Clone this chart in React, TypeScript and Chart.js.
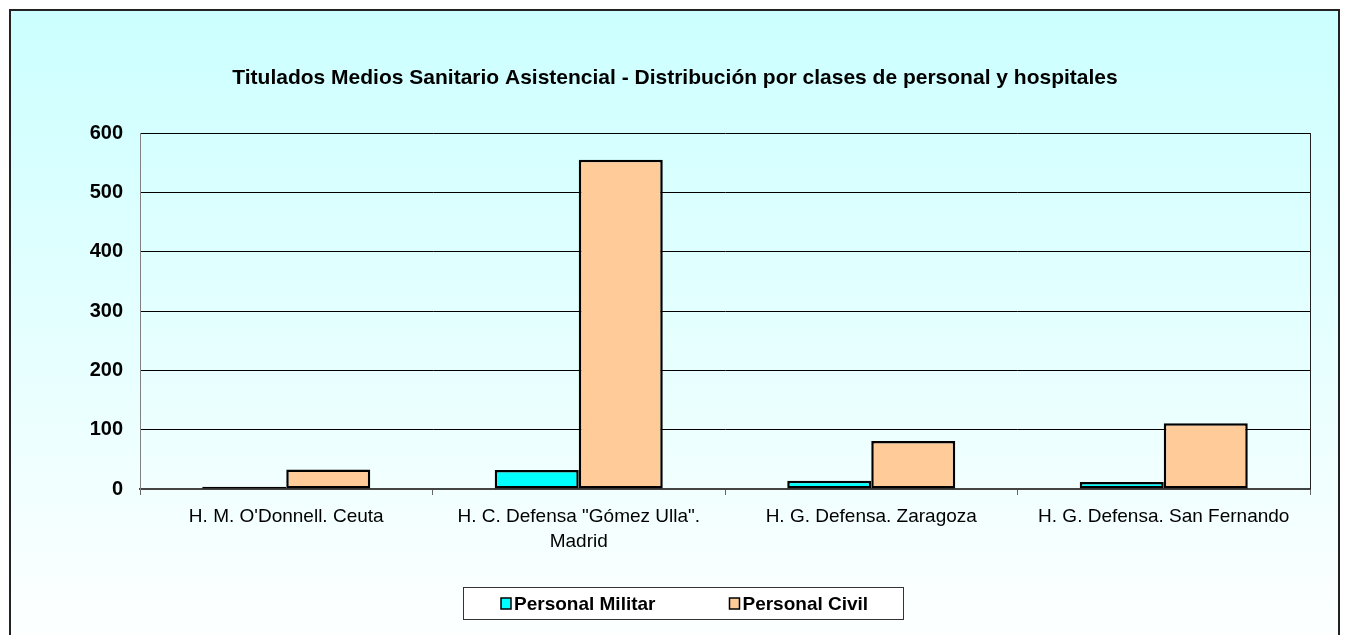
import React, { useEffect, useRef } from "react";
import { Chart, registerables } from "chart.js";

Chart.register(...registerables);

const chartTitle =
  "Titulados Medios Sanitario Asistencial - Distribución por clases de personal y hospitales";
const categories: string[][] = [
  ["H. M. O'Donnell. Ceuta"],
  ['H. C. Defensa "Gómez Ulla".', "Madrid"],
  ["H. G. Defensa. Zaragoza"],
  ["H. G. Defensa. San Fernando"],
];
const seriesNames = ["Personal Militar", "Personal Civil"];
const personalMilitar = [4, 32, 14, 12];
const personalCivil = [33, 555, 81, 111];
const yMin = 0;
const yMax = 600;
const yStep = 100;

const seriesColors = ["#00FFFF", "#FFCC99"];
const FONT = "'Liberation Sans', Arial, sans-serif";

const decorPlugin = {
  id: "decor",
  beforeDraw(chart: any) {
    const ctx = chart.ctx as CanvasRenderingContext2D;
    ctx.save();
    const g = ctx.createLinearGradient(0, 10, 0, 660);
    g.addColorStop(0, "#CCFFFF");
    g.addColorStop(1, "#FFFFFF");
    ctx.fillStyle = g;
    ctx.fillRect(10, 10, 1329, 700);
    ctx.strokeStyle = "#222222";
    ctx.lineWidth = 2;
    ctx.strokeRect(10, 10, 1329, 700);
    ctx.restore();
  },
  afterDraw(chart: any) {
    const ctx = chart.ctx as CanvasRenderingContext2D;
    const area = chart.chartArea;
    ctx.save();
    // right border of plot area
    ctx.strokeStyle = "#222222";
    ctx.lineWidth = 1;
    ctx.beginPath();
    ctx.moveTo(Math.round(area.right) + 0.5, area.top);
    ctx.lineTo(Math.round(area.right) + 0.5, area.bottom);
    ctx.stroke();

    // title
    ctx.fillStyle = "#000";
    ctx.font = `bold 21px ${FONT}`;
    ctx.textAlign = "center";
    ctx.textBaseline = "alphabetic";
    ctx.fillText(chartTitle, 675, 84);

    // legend
    ctx.fillStyle = "#FFFFFF";
    ctx.fillRect(463.5, 587.5, 440, 32);
    ctx.strokeStyle = "#333333";
    ctx.lineWidth = 1;
    ctx.strokeRect(463.5, 587.5, 440, 32);
    ctx.font = `bold 19px ${FONT}`;
    ctx.textAlign = "left";
    let x = 501;
    chart.data.datasets.forEach((ds: any) => {
      ctx.fillStyle = ds.backgroundColor;
      ctx.fillRect(x, 598, 10, 11);
      ctx.strokeStyle = "#000";
      ctx.lineWidth = 1.5;
      ctx.strokeRect(x, 598, 10, 11);
      ctx.fillStyle = "#000";
      ctx.fillText(ds.label, x + 13, 609.5);
      x += 13 + ctx.measureText(ds.label).width + 74;
    });
    ctx.restore();
  },
};

export default function App() {
  const ref = useRef<HTMLCanvasElement>(null);

  useEffect(() => {
    if (!ref.current) return;
    const chart = new Chart(ref.current, {
      type: "bar",
      data: {
        labels: categories as any,
        datasets: [
          {
            label: seriesNames[0],
            data: personalMilitar,
            backgroundColor: seriesColors[0],
            borderColor: "#000000",
            borderWidth: 2.5,
            borderSkipped: false,
          },
          {
            label: seriesNames[1],
            data: personalCivil,
            backgroundColor: seriesColors[1],
            borderColor: "#000000",
            borderWidth: 2.5,
            borderSkipped: false,
          },
        ],
      },
      options: {
        animation: false,
        responsive: false,
        devicePixelRatio: 1,
        datasets: {
          bar: { categoryPercentage: 0.5744, barPercentage: 1 },
        },
        layout: { padding: { left: 10, right: 35, top: 133, bottom: 0 } },
        plugins: {
          legend: { display: false },
          title: { display: false },
          tooltip: { enabled: false },
        },
        scales: {
          x: {
            afterFit(scale: any) {
              scale.height = 146;
            },
            grid: {
              drawOnChartArea: false,
              drawTicks: true,
              tickLength: 6,
              color: "#666666",
              offset: true,
            },
            border: { display: true, color: "#444444", width: 2 },
            ticks: {
              color: "#000000",
              font: { family: FONT, size: 19, lineHeight: 1.28 },
              padding: 10,
              maxRotation: 0,
              autoSkip: false,
            },
          },
          y: {
            min: yMin,
            max: yMax,
            afterFit(scale: any) {
              scale.width = 130;
            },
            grid: {
              drawTicks: false,
              color: (c: any) => (c.tick && c.tick.value === 0 ? "rgba(0,0,0,0)" : "#000000"),
              lineWidth: 1,
            },
            border: { display: true, color: "#808080", width: 1 },
            ticks: {
              stepSize: yStep,
              color: "#000000",
              font: { family: FONT, size: 20, weight: "bold" },
              padding: 17,
            },
          },
        },
      },
      plugins: [decorPlugin],
    });
    return () => chart.destroy();
  }, []);

  return (
    <div style={{ position: "absolute", left: 0, top: 0, width: 1345, height: 635 }}>
      <canvas ref={ref} width={1345} height={635} style={{ display: "block" }} />
    </div>
  );
}
